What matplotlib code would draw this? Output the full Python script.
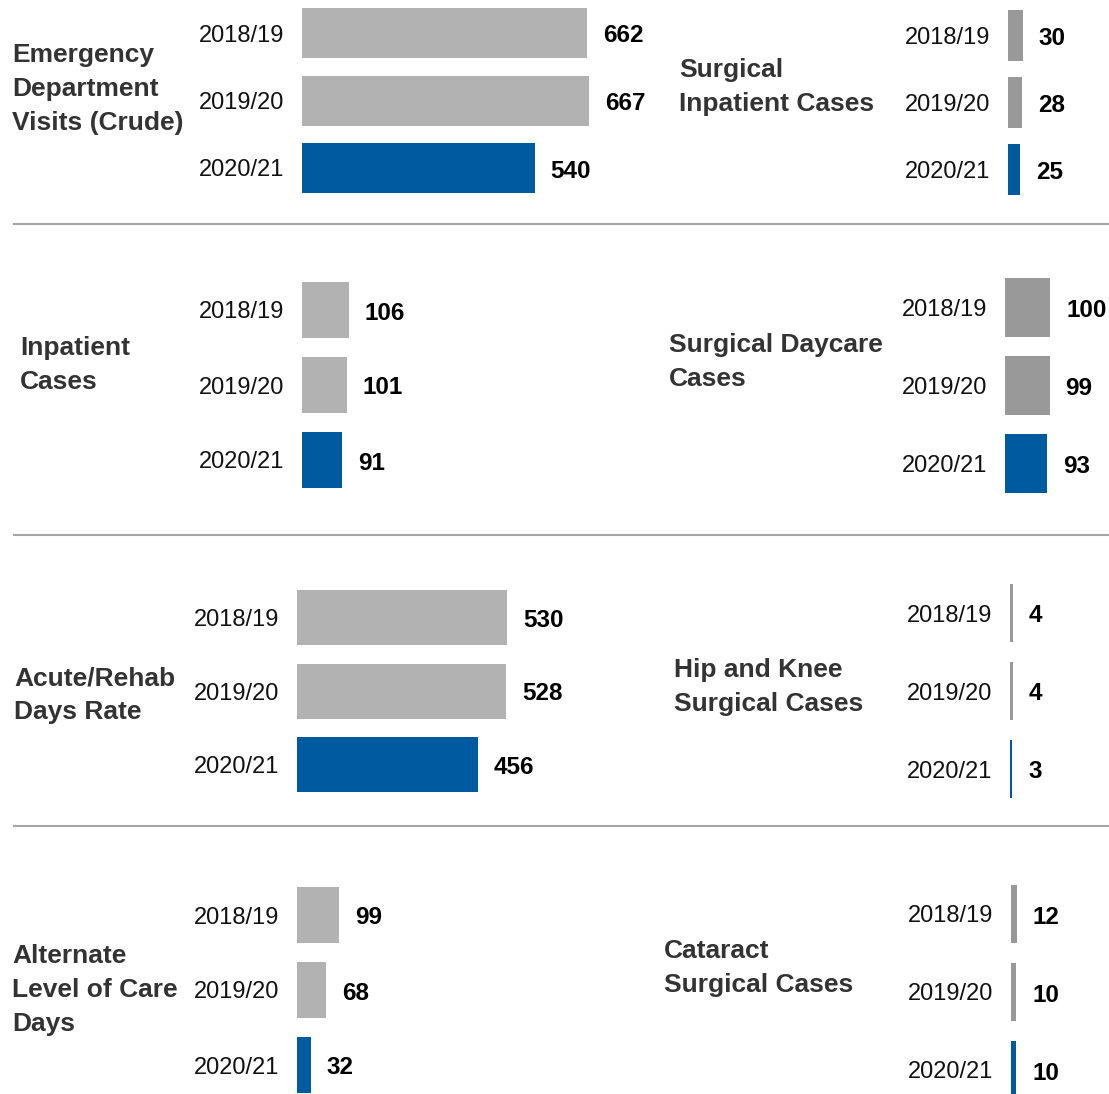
import matplotlib
matplotlib.use("Agg")
import matplotlib.pyplot as plt
from matplotlib.lines import Line2D

plt.rcParams["font.family"] = ["Liberation Sans", "DejaVu Sans"]

# data
years = ["2018/19", "2019/20", "2020/21"]
ed_visits = [662, 667, 540]
surgical_inpatient = [30, 28, 25]
inpatient_cases = [106, 101, 91]
surgical_daycare = [100, 99, 93]
acute_rehab_days = [530, 528, 456]
hip_knee = [4, 4, 3]
alc_days = [99, 68, 32]
cataract = [12, 10, 10]

LIGHT_GREY = "#b2b2b2"
DARK_GREY = "#999999"
BLUE = "#005aa0"
TITLE_COLOR = "#333333"

W, H = 1109, 1094

# layout per panel (pixels): title x/y, bar left, axes right, first bar centre,
# bar spacing, bar height, px per unit, grey shade
panels = [
    ("Emergency\nDepartment\nVisits (Crude)", ed_visits, 12, 89, 302, 660, 33, 67.5, 50, 0.431, LIGHT_GREY),
    ("Surgical\nInpatient Cases", surgical_inpatient, 679, 87, 1008, 1109, 35.5, 67, 51, 0.49, DARK_GREY),
    ("Inpatient\nCases", inpatient_cases, 20, 365, 302, 660, 310, 75, 56, 0.443, LIGHT_GREY),
    ("Surgical Daycare\nCases", surgical_daycare, 669, 362, 1005, 1109, 307.5, 78, 59, 0.45, DARK_GREY),
    ("Acute/Rehab\nDays Rate", acute_rehab_days, 14, 695, 297, 660, 617.5, 73.5, 55, 0.396, LIGHT_GREY),
    ("Hip and Knee\nSurgical Cases", hip_knee, 674, 687, 1010, 1109, 613, 78, 58, 0.75, DARK_GREY),
    ("Alternate\nLevel of Care\nDays", alc_days, 12, 990, 297, 660, 915, 75, 56, 0.424, LIGHT_GREY),
    ("Cataract\nSurgical Cases", cataract, 664, 968, 1011, 1109, 914, 78, 58, 0.5, DARK_GREY),
]

fig = plt.figure(figsize=(W / 100, H / 100), dpi=100)

for title, vals, tx, ty, x0, xr, c0, d, h, scale, grey in panels:
    top = c0 - d / 2
    ax = fig.add_axes([x0 / W, 1 - (top + 3 * d) / H, (xr - x0) / W, 3 * d / H])
    ax.patch.set_alpha(0)
    pos = list(range(len(vals)))
    ax.barh(pos, vals, height=h / d, color=[grey, grey, BLUE])
    ax.set_ylim(2.5, -0.5)
    ax.set_xlim(0, (xr - x0) / scale)
    ax.set_yticks(pos)
    ax.set_yticklabels(years)
    ax.set_xticks([])
    ax.tick_params(axis="y", length=0, pad=13, labelsize=17, labelcolor="#111111")
    for s in ax.spines.values():
        s.set_visible(False)
    for i, v in enumerate(vals):
        ax.annotate(str(v), (v, i), xytext=(16, -3), textcoords="offset pixels",
                    va="center", ha="left", fontsize=17.5, fontweight="bold",
                    color="black")
    fig.text(tx / W, 1 - ty / H, title, ha="left", va="center", fontsize=19,
             fontweight="bold", color=TITLE_COLOR, linespacing=1.52)

# row separators
for y in [224, 535, 826]:
    fig.add_artist(Line2D([14 / W, 1108 / W], [1 - y / H, 1 - y / H],
                          transform=fig.transFigure, color="#a6a6a6", lw=1.5))

fig.savefig("out.png", dpi=100)
